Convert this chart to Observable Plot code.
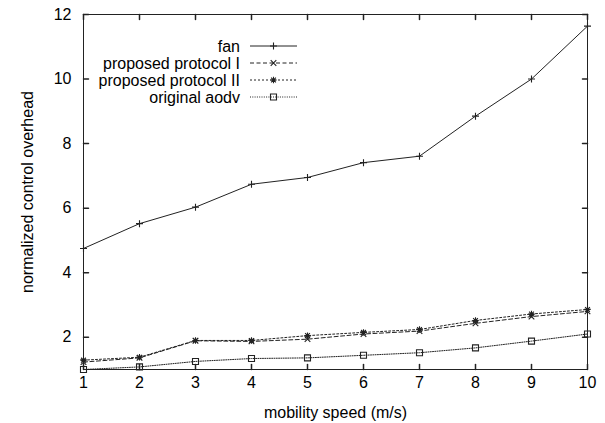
<!DOCTYPE html>
<html><head><meta charset="utf-8">
<script src="https://cdn.jsdelivr.net/npm/d3@7"></script>
<script src="https://cdn.jsdelivr.net/npm/@observablehq/plot@0.6"></script>
<style>
body{margin:0;background:#fff}
svg{font-family:"Liberation Sans",Arial,Helvetica,sans-serif}
</style>
</head><body><div id="chart"></div>
<script>
// ---- data ----
const speeds = [1,2,3,4,5,6,7,8,9,10];
const fan = [4.75,5.52,6.03,6.74,6.95,7.41,7.61,8.85,10.0,11.64];
const protocolI = [1.23,1.36,1.89,1.87,1.94,2.10,2.19,2.43,2.64,2.80];
const protocolII = [1.29,1.38,1.90,1.90,2.05,2.15,2.24,2.52,2.72,2.86];
const aodv = [1.00,1.08,1.25,1.34,1.36,1.44,1.52,1.67,1.88,2.10];
const seriesNames = ["fan","proposed protocol I","proposed protocol II","original aodv"];
const xTicks = [1,2,3,4,5,6,7,8,9,10];
const yTicks = [2,4,6,8,10,12];
const xLabel = "mobility speed (m/s)";
const yLabel = "normalized control overhead";

// ---- styles ----
const seriesValues = [fan, protocolI, protocolII, aodv];
const dashes = [null, "4,2.5", "2,2", "1,1.3"];
const ink = "#222";
const fontSize = 16;

const hOf = size => Math.sqrt(size / Math.PI);
const symPlus = {draw(c, s){ const h = hOf(s); c.moveTo(-h,0); c.lineTo(h,0); c.moveTo(0,-h); c.lineTo(0,h); }};
const symTimes = {draw(c, s){ const h = hOf(s) * 0.8; c.moveTo(-h,-h); c.lineTo(h,h); c.moveTo(-h,h); c.lineTo(h,-h); }};
const symStar = {draw(c, s){ const h = hOf(s); const k = h * 0.75;
  c.moveTo(-h,0); c.lineTo(h,0); c.moveTo(0,-h); c.lineTo(0,h);
  c.moveTo(-k,-k); c.lineTo(k,k); c.moveTo(-k,k); c.lineTo(k,-k); }};
const symSquare = {draw(c, s){ const h = hOf(s); c.rect(-h,-h,2*h,2*h); }};
const symbols = [symPlus, symTimes, symStar, symSquare];
const symbolR = [3.5, 3.5, 3.2, 3.0];

const table = [];
seriesNames.forEach((name, i) => speeds.forEach((s, j) => table.push({series: name, idx: i, speed: s, value: seriesValues[i][j]})));

const tickShape = {draw(ctx, l){ ctx.moveTo(0,0); ctx.lineTo(0,-l); }};

const marks = [];
seriesNames.forEach((name, i) => {
  const d = table.filter(r => r.idx === i);
  marks.push(Plot.line(d, {x: "speed", y: "value", stroke: ink, strokeWidth: 1, strokeDasharray: dashes[i]}));
  marks.push(Plot.dot(d, {x: "speed", y: "value", symbol: symbols[i], r: symbolR[i], stroke: ink, fill: "none", strokeWidth: 1.1}));
});
marks.push(
  Plot.vector(xTicks, {x: d => d, frameAnchor: "bottom", rotate: 0, length: 5, anchor: "start", shape: tickShape, stroke: ink}),
  Plot.vector(xTicks, {x: d => d, frameAnchor: "top", rotate: 180, length: 5, anchor: "start", shape: tickShape, stroke: ink}),
  Plot.vector(yTicks, {y: d => d, frameAnchor: "left", rotate: 90, length: 5, anchor: "start", shape: tickShape, stroke: ink}),
  Plot.vector(yTicks, {y: d => d, frameAnchor: "right", rotate: -90, length: 5, anchor: "start", shape: tickShape, stroke: ink}),
  Plot.axisX(xTicks, {tickSize: 0, tickPadding: 7, fontSize, fill: "#000", label: xLabel, labelAnchor: "center", labelOffset: 48, labelArrow: "none"}),
  Plot.axisY(yTicks, {tickSize: 0, tickPadding: 12, fontSize, fill: "#000", label: yLabel, labelAnchor: "center", labelOffset: 62, labelArrow: "none"}),
  Plot.frame({stroke: ink, strokeWidth: 1})
);

const plot = Plot.plot({
  width: 605,
  height: 423,
  marginLeft: 83,
  marginRight: 18,
  marginTop: 14,
  marginBottom: 54,
  style: {fontSize: fontSize + "px", fontFamily: '"Liberation Sans", Arial, sans-serif', background: "#fff", color: "#000"},
  x: {domain: [1, 10]},
  y: {domain: [1, 12]},
  marks
});
document.getElementById("chart").appendChild(plot);

// ---- legend (inside plot, top-left) ----
const svg = d3.select(plot.tagName === "svg" ? plot : plot.querySelector("svg"));
const lg = svg.append("g").attr("font-size", fontSize).attr("font-family", '"Liberation Sans", Arial, sans-serif');
seriesNames.forEach((name, i) => {
  const y = 46 + i * 17;
  lg.append("text").attr("x", 240).attr("y", y).attr("dy", "0.35em").attr("text-anchor", "end").attr("fill", "#000").text(name);
  const ln = lg.append("line").attr("x1", 250).attr("x2", 297).attr("y1", y).attr("y2", y).attr("stroke", ink).attr("stroke-width", 1);
  if (dashes[i]) ln.attr("stroke-dasharray", dashes[i]);
  const r = symbolR[i];
  lg.append("path").attr("transform", `translate(273.5,${y})`)
    .attr("d", d3.symbol(symbols[i], Math.PI * r * r)())
    .attr("fill", "none").attr("stroke", ink).attr("stroke-width", 1.1);
});
</script>
</body></html>
